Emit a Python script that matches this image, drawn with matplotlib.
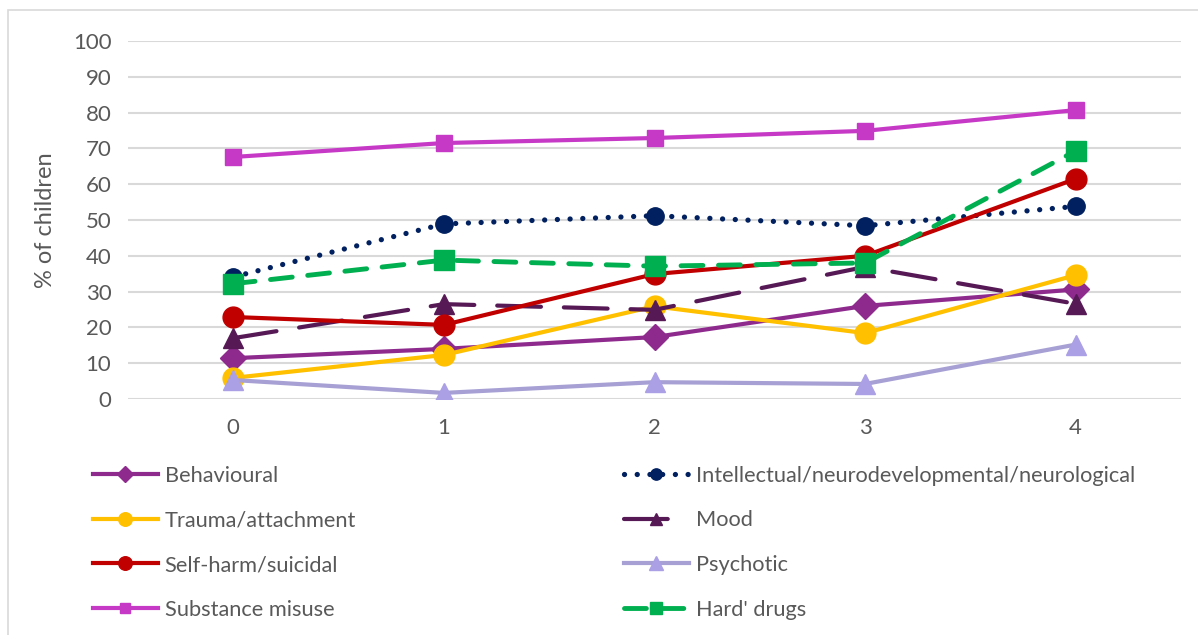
import matplotlib
matplotlib.use("Agg")
from matplotlib import pyplot as plt
from matplotlib.patches import Rectangle
import numpy as np

plt.rcParams['font.family'] = ['Lato', 'DejaVu Sans']

x = [0, 1, 2, 3, 4]
behavioural = [11.4, 14.0, 17.3, 26.0, 30.6]
intellectual = [34.1, 48.9, 51.2, 48.4, 53.8]
trauma = [5.9, 12.3, 25.9, 18.4, 34.6]
mood = [17.0, 26.5, 24.9, 36.9, 26.6]
selfharm = [22.9, 20.7, 34.9, 40.0, 61.5]
psychotic = [5.3, 1.7, 4.7, 4.2, 15.2]
substance = [67.6, 71.5, 72.9, 74.9, 80.7]
harddrugs = [32.2, 38.8, 37.1, 38.0, 69.3]

grey = '#595959'

fig = plt.figure(figsize=(11.98, 6.35), dpi=100)
ax = fig.add_axes([128/1198, 1-399/635, (1181-128)/1198, (399-41)/635])

h = {}
h['Behavioural'], = ax.plot(x, behavioural, color='#8E2A8E', lw=3, marker='D',
                            ms=13, label='Behavioural')
h['Intel'], = ax.plot(x, intellectual, color='#002060', lw=3.8, ls=(0, (0.01, 2.4)),
                      dash_capstyle='round', marker='o', ms=12.5,
                      label='Intellectual/neurodevelopmental/neurological')
h['Trauma'], = ax.plot(x, trauma, color='#FFC000', lw=3, marker='o', ms=15,
                       label='Trauma/attachment')
h['Mood'], = ax.plot(x, mood, color='#561956', lw=3, ls=(0, (10.5, 5.5)),
                     dash_capstyle='round', marker='^', ms=14, label='Mood')
h['Self'], = ax.plot(x, selfharm, color='#C00000', lw=3, marker='o', ms=15,
                     label='Self-harm/suicidal')
h['Psych'], = ax.plot(x, psychotic, color='#A6A0D4', lw=3, marker='^', ms=15,
                      mfc='#AB9FE6', mec='#AB9FE6', label='Psychotic')
h['Subst'], = ax.plot(x, substance, color='#C639C6', lw=3, marker='s', ms=12,
                      label='Substance misuse')
h['Hard'], = ax.plot(x, harddrugs, color='#00B050', lw=3.5, ls=(0, (4.5, 3.2)),
                     dash_capstyle='round', marker='s', ms=14, label="Hard' drugs")

ax.set_xlim(-0.5, 4.5)
ax.set_ylim(0, 100)
ax.set_xticks(x)
ax.set_yticks(np.arange(0, 101, 10))
ax.grid(axis='y', color='#D9D9D9', lw=1.5)
ax.set_axisbelow(True)
for s in ax.spines.values():
    s.set_visible(False)
ax.tick_params(length=0, labelsize=16, colors=grey, pad=12)
ax.tick_params(axis='x', pad=14)
ax.set_ylabel('% of children', fontsize=17, color=grey, labelpad=12)

leg_kw = dict(frameon=False, fontsize=15.7, labelcolor=grey, handlelength=3.0,
              labelspacing=1.13, handletextpad=0.3, borderaxespad=0, markerscale=0.65)
fig.legend([h['Behavioural'], h['Trauma'], h['Self'], h['Subst']],
           ['Behavioural', 'Trauma/attachment', 'Self-harm/suicidal', 'Substance misuse'],
           loc='upper left', bbox_to_anchor=(84/1198, 1-457/635), **leg_kw)
fig.legend([h['Intel'], h['Mood'], h['Psych'], h['Hard']],
           ['Intellectual/neurodevelopmental/neurological', 'Mood', 'Psychotic', "Hard' drugs"],
           loc='upper left', bbox_to_anchor=(615/1198, 1-457/635), **leg_kw)

fig.patches.append(Rectangle((8/1198, -0.1), 1.2, 1-10/635+0.1, transform=fig.transFigure,
                             fill=False, ec='#D9D9D9', lw=1.2))

fig.savefig('out.png', dpi=100)
